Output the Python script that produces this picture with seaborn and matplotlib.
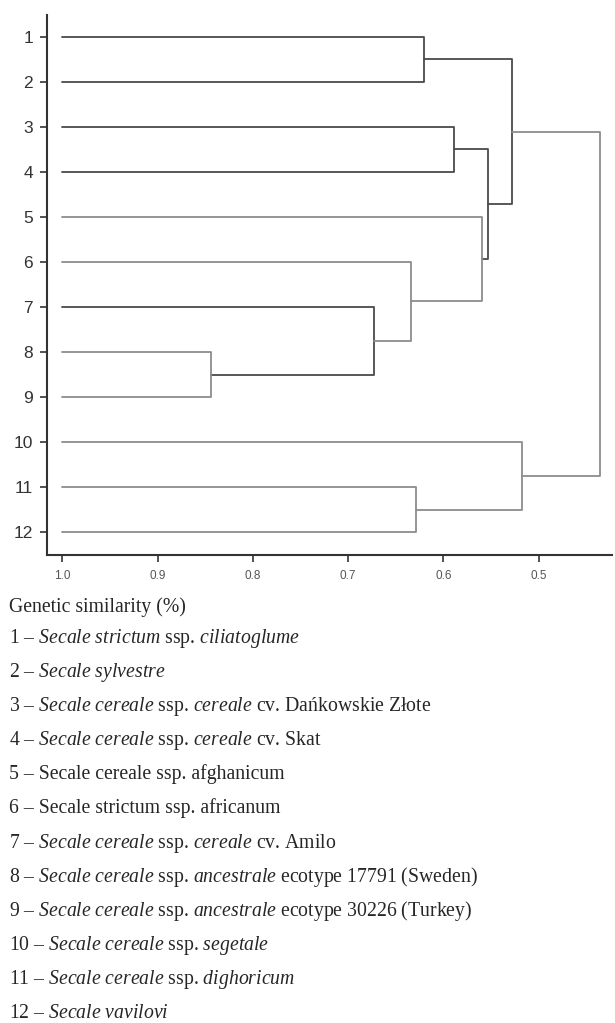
import matplotlib
matplotlib.use("Agg")
import matplotlib.pyplot as plt
import seaborn as sns
import numpy as np
import pandas as pd

# leaves, top to bottom
leaves = ["1", "2", "3", "4", "5", "6", "7", "8", "9", "10", "11", "12"]

# merges: node name, two children, similarity where they join
node_names = ["n12", "n34", "n89", "n789", "n6789", "n5_9", "n3_9", "n1_9",
              "n1112", "n10_12", "root"]
left_child = ["1", "3", "8", "7", "6", "5", "n34", "n12", "11", "10", "n1_9"]
right_child = ["2", "4", "9", "n89", "n789", "n6789", "n5_9", "n3_9", "12", "n1112", "n10_12"]
similarity = [0.620, 0.589, 0.844, 0.673, 0.634, 0.559, 0.553, 0.528, 0.629, 0.517, 0.436]

x_ticks = [1.0, 0.9, 0.8, 0.7, 0.6, 0.5]
x_ticklabels = ["1.0", "0.9", "0.8", "0.7", "0.6", "0.5"]
x_title = "Genetic similarity (%)"

key_lines = [
    r"1 – $\mathit{Secale\ strictum}$ ssp. $\mathit{ciliatoglume}$",
    r"2 – $\mathit{Secale\ sylvestre}$",
    r"3 – $\mathit{Secale\ cereale}$ ssp. $\mathit{cereale}$ cv. Dańkowskie Złote",
    r"4 – $\mathit{Secale\ cereale}$ ssp. $\mathit{cereale}$ cv. Skat",
    "5 – Secale cereale ssp. afghanicum",
    "6 – Secale strictum ssp. africanum",
    r"7 – $\mathit{Secale\ cereale}$ ssp. $\mathit{cereale}$ cv. Amilo",
    r"8 – $\mathit{Secale\ cereale}$ ssp. $\mathit{ancestrale}$ ecotype 17791 (Sweden)",
    r"9 – $\mathit{Secale\ cereale}$ ssp. $\mathit{ancestrale}$ ecotype 30226 (Turkey)",
    r"10 – $\mathit{Secale\ cereale}$ ssp. $\mathit{segetale}$",
    r"11 – $\mathit{Secale\ cereale}$ ssp. $\mathit{dighoricum}$",
    r"12 – $\mathit{Secale\ vavilovi}$",
]

# build the U-shaped links from the merge table
pos = {name: (1.0, i + 1) for i, name in enumerate(leaves)}
dark_links = {"n12", "n34", "n789", "n3_9", "n1_9"}
rows = []
for name, a, b, s in zip(node_names, left_child, right_child, similarity):
    xa, ya = pos[a]
    xb, yb = pos[b]
    pts = [(xa, ya), (s, ya), (s, yb), (xb, yb)]
    for k, (px, py) in enumerate(pts):
        rows.append({"link": name, "order": k, "x": px, "y": py,
                     "shade": "dark" if name in dark_links else "light"})
    pos[name] = (s, (ya + yb) / 2)
links = pd.DataFrame(rows)

sns.set_style("white")
plt.rcParams["font.family"] = ["Liberation Sans", "DejaVu Sans"]
plt.rcParams["mathtext.fontset"] = "custom"
plt.rcParams["mathtext.rm"] = "Liberation Serif"
plt.rcParams["mathtext.it"] = "Liberation Serif:italic"

fig = plt.figure(figsize=(6.15, 10.23), dpi=100)
ax = fig.add_axes([0.0764, 0.4575, 0.9187, 0.5279])

sns.lineplot(data=links, x="x", y="y", units="link", estimator=None, sort=False,
             hue="shade", palette={"dark": "#4a4a4a", "light": "#8c8c8c"},
             legend=False, linewidth=1.3, ax=ax)

ax.set_xlim(1.016, 0.423)
ax.set_ylim(12.51, 0.51)
ax.set_xticks(x_ticks)
ax.set_xticklabels(x_ticklabels, fontsize=8.5, color="#555555")
ax.set_yticks(range(1, len(leaves) + 1))
ax.set_yticklabels(leaves, fontsize=12.5, color="#333333")
ax.tick_params(axis="both", direction="out", length=5, width=1.2, color="#333333",
               left=True, bottom=True)
ax.tick_params(axis="x", pad=6)
ax.tick_params(axis="y", pad=5)
ax.set_xlabel("")
ax.set_ylabel("")
for side in ["top", "right"]:
    ax.spines[side].set_visible(False)
for side in ["left", "bottom"]:
    ax.spines[side].set_color("#333333")
    ax.spines[side].set_linewidth(1.5)

serif = ["Liberation Serif", "DejaVu Serif"]
fig.text(9 / 615, 1 - 612 / 1023, x_title, fontsize=14.2, family=serif,
         va="baseline", ha="left")
for i, line in enumerate(key_lines):
    y_px = 643 + i * 34.1
    fig.text(9 / 615, 1 - y_px / 1023, line, fontsize=14.2, family=serif,
             va="baseline", ha="left")

fig.savefig("out.png", dpi=100)
